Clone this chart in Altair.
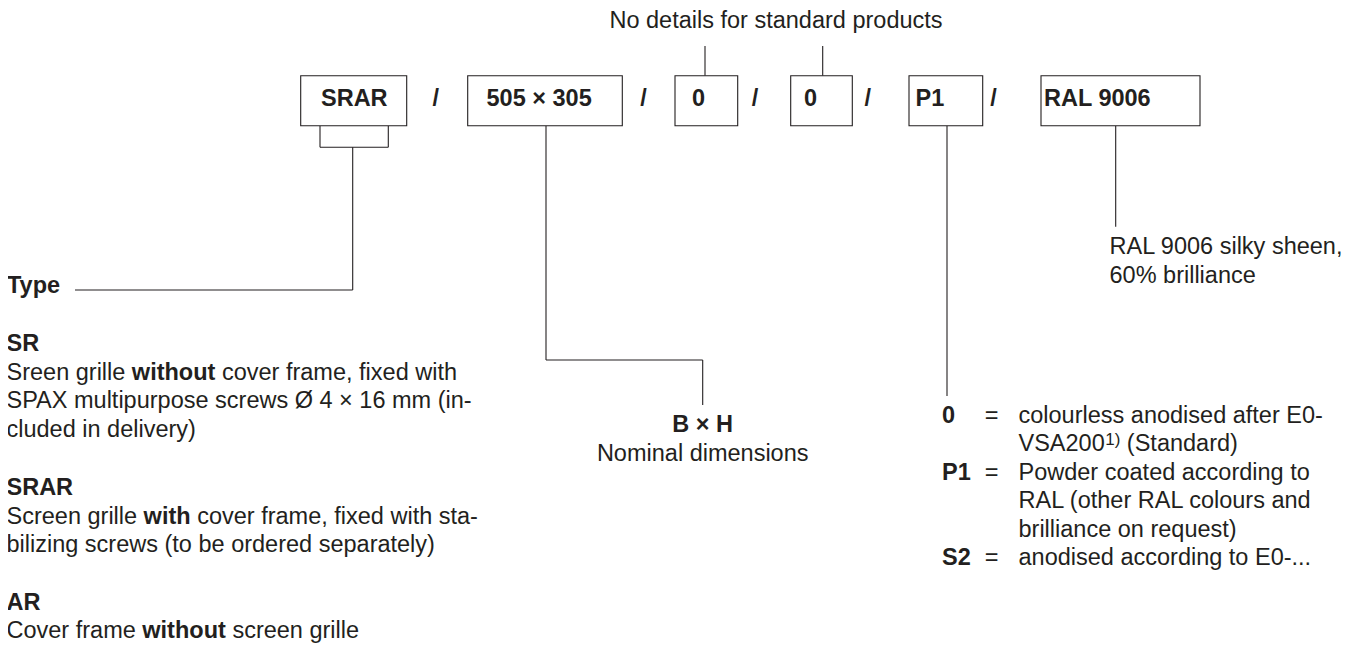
import altair as alt
import pandas as pd

FONT = "Liberation Sans"
FS = 23.5
SUP = 17
INK = "#231f20"

# ---------------- content ----------------
header_note = "No details for standard products"
box_labels = ["SRAR", "505 × 305", "0", "0", "P1", "RAL 9006"]
separator = "/"
type_heading = "Type"
type_names = ["SR", "SRAR", "AR"]
type_lines = [
    [[("Sreen grille ", False), ("without", True), (" cover frame, fixed with", False)],
     [("SPAX multipurpose screws Ø 4 × 16 mm (in-", False)],
     [("cluded in delivery)", False)]],
    [[("Screen grille ", False), ("with", True), (" cover frame, fixed with sta-", False)],
     [("bilizing screws (to be ordered separately)", False)]],
    [[("Cover frame ", False), ("without", True), (" screen grille", False)]],
]
dim_label = "B × H"
dim_note = "Nominal dimensions"
colour_note = ["RAL 9006 silky sheen,", "60% brilliance"]
finish_codes = ["0", "P1", "S2"]
finish_lines = [
    ["colourless anodised after E0-", "VSA200|1)| (Standard)"],
    ["Powder coated according to", "RAL (other RAL colours and", "brilliance on request)"],
    ["anodised according to E0-..."],
]

# ---------------- layout (image pixel coordinates) ----------------
box_x0 = [300.7, 467.7, 675.0, 790.7, 909.0, 1041.0]
box_x1 = [406.7, 622.3, 737.7, 852.3, 982.7, 1200.0]
box_top, box_bottom = 75.7, 125.7
label_x = [321.0, 486.5, 692.0, 804.0, 915.5, 1044.0]
label_base = 105.5
slash_x = [435.7, 643.5, 755.0, 867.7, 993.5]

left_x = 6.5
type_base = 292.7
name_base = [351.0, 495.0, 609.8]
line_base = [[379.7, 408.3, 436.8], [523.5, 552.0], [638.3]]

fin_code_x, fin_eq_x, fin_text_x = 942.0, 991.7, 1018.5
fin_base = [[422.5, 451.0], [479.5, 508.0, 536.5], [565.0]]

segments = [
    # x, y, x2, y2
    (705.0, 46.0, 705.0, 75.7),
    (822.7, 46.0, 822.7, 75.7),
    (320.0, 125.7, 320.0, 147.3),
    (388.3, 125.7, 388.3, 147.3),
    (320.0, 147.3, 388.3, 147.3),
    (352.7, 147.3, 352.7, 290.0),
    (75.0, 290.0, 352.7, 290.0),
    (546.0, 125.7, 546.0, 360.0),
    (546.0, 360.0, 702.7, 360.0),
    (702.7, 360.0, 702.7, 405.0),
    (947.0, 125.7, 947.0, 396.0),
    (1115.7, 125.7, 1115.7, 226.7),
]

# ---------------- font metrics (Arial / Liberation Sans, per 1000 em) ----------------
REG = {" ": 278, "(": 333, ")": 333, ",": 278, "-": 333, ".": 278, "/": 278, "=": 584,
       "×": 584, "Ø": 778, "%": 889}
BOLD = {" ": 278, "(": 333, ")": 333, ",": 278, "-": 333, ".": 278, "/": 278, "×": 584}
for d in "0123456789":
    REG[d] = 556
    BOLD[d] = 556
REG.update(dict(zip("ABCDEFGHIJKLMNOPQRSTUVWXYZ",
    [667, 667, 722, 722, 667, 611, 778, 722, 278, 500, 667, 556, 833, 722, 778, 667, 778, 722, 667, 611, 722, 667, 944, 667, 667, 611])))
REG.update(dict(zip("abcdefghijklmnopqrstuvwxyz",
    [556, 556, 500, 556, 556, 278, 556, 556, 222, 222, 500, 222, 833, 556, 556, 556, 556, 333, 500, 278, 556, 500, 722, 500, 500, 500])))
BOLD.update(dict(zip("ABCDEFGHIJKLMNOPQRSTUVWXYZ",
    [722, 722, 722, 722, 667, 611, 778, 722, 278, 556, 722, 611, 833, 722, 778, 667, 778, 722, 667, 611, 722, 667, 944, 667, 667, 611])))
BOLD.update(dict(zip("abcdefghijklmnopqrstuvwxyz",
    [556, 611, 556, 611, 556, 333, 611, 611, 278, 278, 556, 278, 889, 611, 611, 611, 611, 389, 556, 333, 611, 556, 778, 556, 556, 500])))


def text_width(s, bold=False, size=FS):
    table = BOLD if bold else REG
    return sum(table.get(c, 556) for c in s) / 1000.0 * size


def place_runs(runs, x0, y, out_reg, out_bold, size=FS):
    x = x0
    for txt, bold in runs:
        stripped = txt.lstrip(" ")
        x += text_width(txt[: len(txt) - len(stripped)], bold, size)
        (out_bold if bold else out_reg).append({"text": stripped, "x": x, "y": y})
        x += text_width(stripped, bold, size)


reg_left, bold_left, reg_center, bold_center, sup_rows = [], [], [], [], []

# header note
reg_center.append({"text": header_note, "x": 776.0, "y": 28.0})

# code boxes
for lab, lx in zip(box_labels, label_x):
    bold_left.append({"text": lab, "x": lx, "y": label_base})
for sx in slash_x:
    bold_center.append({"text": separator, "x": sx, "y": label_base})

# type column
bold_left.append({"text": type_heading, "x": left_x + 0.5, "y": type_base})
for name, nb, lines, lbs in zip(type_names, name_base, type_lines, line_base):
    bold_left.append({"text": name, "x": left_x, "y": nb})
    for runs, lb in zip(lines, lbs):
        place_runs(runs, left_x, lb, reg_left, bold_left)

# dimensions
bold_center.append({"text": dim_label, "x": 702.7, "y": 431.5})
reg_center.append({"text": dim_note, "x": 702.7, "y": 460.5})

# colour note
for t, yb in zip(colour_note, [254.0, 283.0]):
    reg_left.append({"text": t, "x": 1109.5, "y": yb})

# finishes
for code, lines, bases in zip(finish_codes, finish_lines, fin_base):
    bold_left.append({"text": code, "x": fin_code_x, "y": bases[0]})
    reg_center.append({"text": "=", "x": fin_eq_x, "y": bases[0]})
    for t, yb in zip(lines, bases):
        if "|" in t:
            a, sup, b = t.split("|")
            reg_left.append({"text": a, "x": fin_text_x, "y": yb})
            xs = fin_text_x + text_width(a)
            sup_rows.append({"text": sup, "x": xs + 0.5, "y": yb - 6.5})
            xs += 0.5 + text_width(sup, size=SUP)
            stripped = b.lstrip(" ")
            xs += text_width(b[: len(b) - len(stripped)])
            reg_left.append({"text": stripped, "x": xs, "y": yb})
        else:
            reg_left.append({"text": t, "x": fin_text_x, "y": yb})

W, H = 1339, 637
X = alt.X("x:Q", scale=alt.Scale(domain=[8, 8 + W], range=[0, W], nice=False, zero=False), axis=None)
Y = alt.Y("y:Q", scale=alt.Scale(domain=[8, 8 + H], range=[0, H], nice=False, zero=False), axis=None)


def text_layer(rows, bold=False, align="left", size=FS):
    return alt.Chart(pd.DataFrame(rows)).mark_text(
        align=align, baseline="alphabetic", font=FONT, fontSize=size,
        fontWeight="bold" if bold else "normal", color=INK
    ).encode(x=X, y=Y, text="text:N")


boxes = pd.DataFrame({"x": box_x0, "x2": box_x1,
                      "y": [box_top] * len(box_x0), "y2": [box_bottom] * len(box_x0)})
box_layer = alt.Chart(boxes).mark_rect(fill="white", stroke=INK, strokeWidth=1.1).encode(
    x=X, x2="x2:Q", y=Y, y2="y2:Q")

seg_df = pd.DataFrame(segments, columns=["x", "y", "x2", "y2"])
rule_layer = alt.Chart(seg_df).mark_rule(color=INK, strokeWidth=1.1).encode(
    x=X, x2="x2:Q", y=Y, y2="y2:Q")

chart = alt.layer(
    rule_layer,
    box_layer,
    text_layer(reg_left),
    text_layer(bold_left, bold=True),
    text_layer(reg_center, align="center"),
    text_layer(bold_center, bold=True, align="center"),
    text_layer(sup_rows, size=SUP),
).properties(
    width=W, height=H, padding=0,
    autosize=alt.AutoSizeParams(type="none"),
    background="white",
).configure_view(strokeWidth=0)

chart.save("out.html", embed_options={"renderer": "svg", "actions": False})
